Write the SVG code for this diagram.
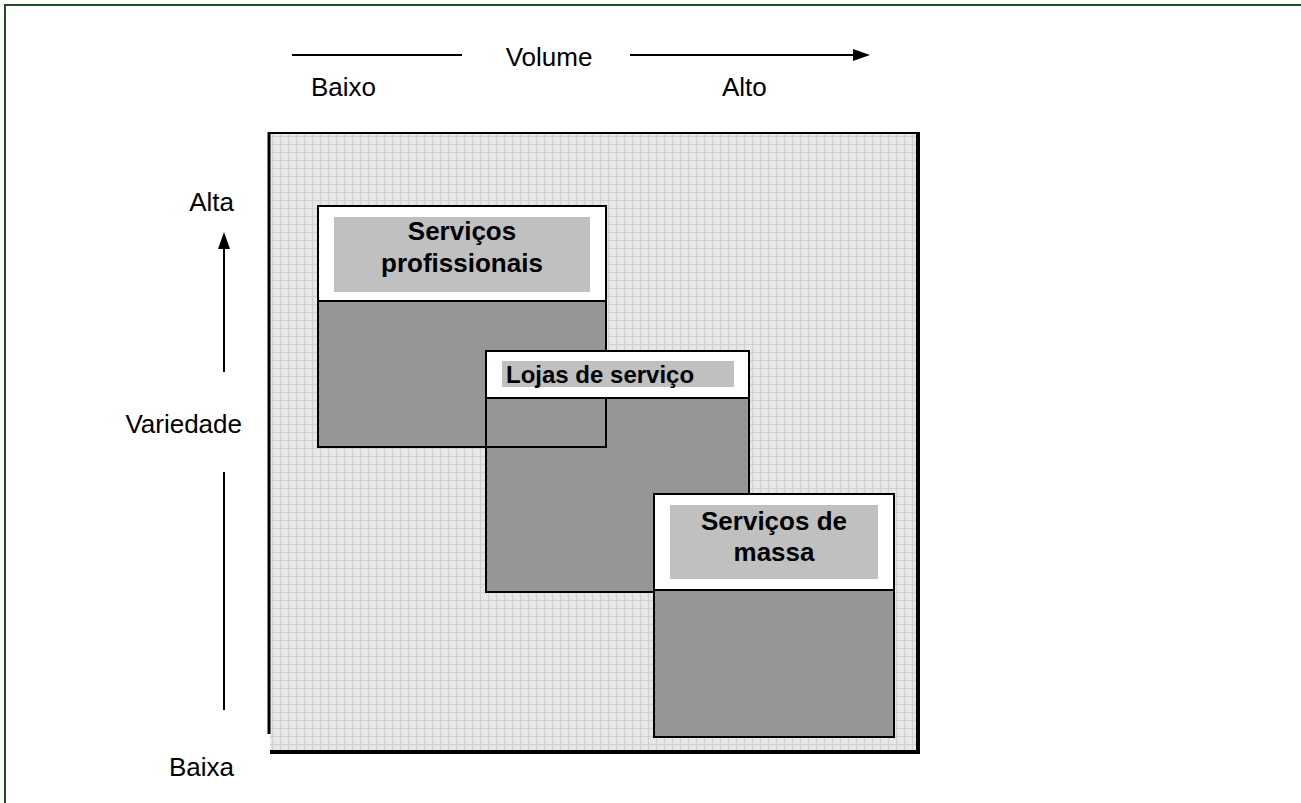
<svg xmlns="http://www.w3.org/2000/svg" width="1301" height="803" viewBox="0 0 1301 803">
<style>
.ax{font-family:"Liberation Sans",Arial,sans-serif;font-size:26px;fill:#000}
.lb{font-family:"Liberation Sans",Arial,sans-serif;font-size:26px;font-weight:bold;fill:#000}
.dark{fill:#969696;stroke:#000;stroke-width:2}
.hdr{fill:#fff;stroke:#000;stroke-width:2}
.tag{fill:#c0c0c0}
.ln{stroke:#000;stroke-width:2;fill:none}
</style>
<defs>
<pattern id="grid" width="8" height="8" patternUnits="userSpaceOnUse">
<rect width="8" height="8" fill="#e6e6e6"/>
<rect x="0" y="0" width="8" height="1" fill="#d0d0d0"/>
<rect x="0" y="0" width="1" height="8" fill="#d0d0d0"/>
<rect x="3" y="3" width="1" height="1" fill="#f4f4f4"/>
<rect x="5" y="5" width="1" height="1" fill="#f4f4f4"/>
</pattern>
</defs>
<rect width="1301" height="803" fill="#fff"/>
<path d="M5,803 V5 H1301" fill="none" stroke="#1f4f1f" stroke-width="2"/>

<g id="frame">
<rect x="270" y="133" width="648" height="618" fill="url(#grid)"/>
<path d="M269,133 H918" stroke="#000" stroke-width="2"/>
<path d="M918,132 V752 H270" stroke="#000" stroke-width="4" fill="none"/>
<path d="M269,132 V734" stroke="#000" stroke-width="3"/>
</g>

<g id="connectors">
<line class="ln" x1="292" y1="55" x2="462" y2="55"/>
<line class="ln" x1="630" y1="55" x2="854" y2="55"/>
<path d="M853,49 L870,55 L853,61 Z" fill="#000"/>
<line class="ln" x1="224" y1="372" x2="224" y2="248"/>
<path d="M218,249 L224,232 L230,249 Z" fill="#000"/>
<line class="ln" x1="224" y1="472" x2="224" y2="710"/>
</g>

<g id="axis-labels">
<text class="ax" x="549" y="66" text-anchor="middle">Volume</text>
<text class="ax" x="311" y="96">Baixo</text>
<text class="ax" x="722" y="96">Alto</text>
<text class="ax" x="234" y="211" text-anchor="end">Alta</text>
<text class="ax" x="242" y="433" text-anchor="end">Variedade</text>
<text class="ax" x="234" y="776" text-anchor="end">Baixa</text>
</g>

<g id="servicos-profissionais">
<rect class="dark" x="318" y="206" width="288" height="241"/>
<rect class="hdr" x="318" y="206" width="288" height="95"/>
<rect class="tag" x="334" y="217" width="256" height="75"/>
<text class="lb" x="462" y="240" text-anchor="middle">Serviços</text>
<text class="lb" x="462" y="272" text-anchor="middle">profissionais</text>
</g>

<g id="lojas-de-servico">
<rect class="dark" x="486" y="351" width="263" height="241"/>
<path class="ln" d="M606,398 V447 H486"/>
<rect class="hdr" x="486" y="351" width="263" height="47"/>
<rect class="tag" x="502" y="361" width="232" height="26"/>
<text class="lb" x="506" y="383" style="font-size:24px">Lojas de serviço</text>
</g>

<g id="servicos-de-massa">
<rect class="dark" x="654" y="494" width="240" height="243"/>
<rect class="hdr" x="654" y="494" width="240" height="96"/>
<rect class="tag" x="670" y="505" width="208" height="74"/>
<text class="lb" x="774" y="530" text-anchor="middle">Serviços de</text>
<text class="lb" x="774" y="561" text-anchor="middle">massa</text>
</g>
</svg>
